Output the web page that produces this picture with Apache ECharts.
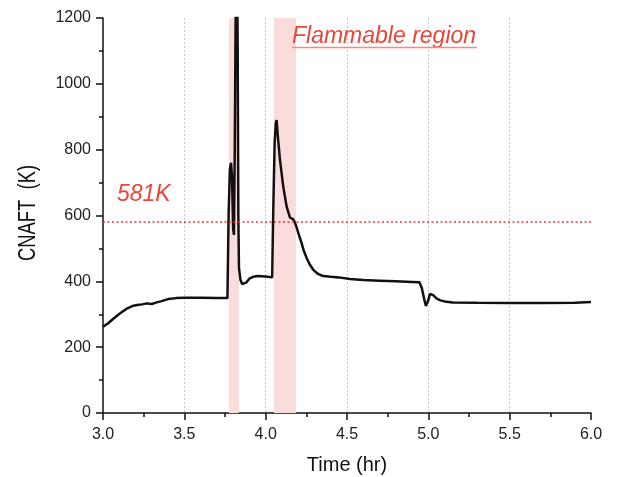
<!DOCTYPE html>
<html>
<head>
<meta charset="utf-8">
<script src="https://cdn.jsdelivr.net/npm/echarts@6/dist/echarts.min.js"></script>
<style>
  html, body { margin: 0; padding: 0; background: #fff; }
  #main { width: 617px; height: 477px; }
</style>
</head>
<body>
<div id="main"></div>
<script>
// time (hr) and CNAFT (K)
var timeHr = [3.00, 3.03, 3.06, 3.09, 3.12, 3.15, 3.18, 3.21, 3.24, 3.27, 3.30, 3.33, 3.36, 3.40, 3.45, 3.50, 3.60, 3.70,
  3.765, 3.772, 3.780, 3.787, 3.793, 3.800, 3.805, 3.810, 3.816, 3.822, 3.828, 3.832, 3.836, 3.845, 3.855, 3.865, 3.880,
  3.900, 3.925, 3.950, 4.000, 4.040, 4.046, 4.055, 4.062, 4.067, 4.075, 4.088, 4.108, 4.129, 4.149, 4.160, 4.170, 4.180,
  4.190, 4.205, 4.221, 4.235, 4.252, 4.270, 4.293, 4.320, 4.354, 4.400, 4.450, 4.518, 4.600, 4.700, 4.800, 4.900, 4.945,
  4.960, 4.975, 4.985, 4.990, 4.998, 5.010, 5.016, 5.030, 5.050, 5.070, 5.100, 5.150, 5.300, 5.500, 5.700, 5.900, 6.000];
var cnaft = [262, 272, 285, 297, 308, 318, 325, 328, 330, 333, 331, 336, 340, 346, 349, 350, 350, 349,
  349, 600, 740, 760, 720, 560, 541, 800, 1250, 1500, 1100, 600, 440, 405, 392, 389, 396,
  408, 414, 416, 415, 412, 600, 820, 880, 890, 840, 769, 688, 627, 594, 590, 588, 578,
  564, 540, 516, 492, 471, 452, 435, 423, 416, 414, 412, 407, 404, 402, 400, 398, 397,
  380, 345, 325, 323, 340, 362, 365, 358, 348, 343, 339, 336, 335, 334, 334, 335, 337];

// flammable bands [start, end] in hr
var flammableBands = [[3.774, 3.836], [4.051, 4.186]];
var thresholdK = 581;

var xTicks = { min: 3.0, max: 6.0, step: 0.5 };
var yTicks = { min: 0, max: 1200, step: 200 };

var red = '#e8463a';
var fontName = '"Liberation Sans", Arial, sans-serif';

var chart = echarts.init(document.getElementById('main'), null, { renderer: 'canvas' });

var points = [];
for (var i = 0; i < timeHr.length; i++) {
  points.push([timeHr[i], cnaft[i]]);
}

var areas = flammableBands.map(function (b) {
  return [{ xAxis: b[0] }, { xAxis: b[1] }];
});

var option = {
  animation: false,
  textStyle: { fontFamily: 'Liberation Sans, Arial, sans-serif' },
  grid: { left: 103, right: 26, top: 18, bottom: 64, containLabel: false, outerBoundsMode: 'none' },
  xAxis: {
    type: 'value',
    min: xTicks.min,
    max: xTicks.max,
    interval: xTicks.step,
    name: 'Time (hr)',
    nameLocation: 'middle',
    nameGap: 42,
    nameTextStyle: { fontSize: 20, color: '#111' },
    axisLine: { lineStyle: { color: '#111', width: 1.5 } },
    axisTick: { length: 7, lineStyle: { color: '#111', width: 1.5 } },
    minorTick: { show: true, splitNumber: 2, length: 4, lineStyle: { color: '#111', width: 1.5 } },
    axisLabel: {
      fontSize: 16, color: '#222', margin: 14,
      formatter: function (v) { return v.toFixed(1); }
    },
    splitLine: {
      show: true, showMinLine: false, showMaxLine: false,
      lineStyle: { color: '#c8c8c8', type: [2, 2], width: 1 }
    }
  },
  yAxis: {
    type: 'value',
    min: yTicks.min,
    max: yTicks.max,
    interval: yTicks.step,
    axisLine: { show: true, lineStyle: { color: '#111', width: 1.5 } },
    axisTick: { show: true, length: 7, lineStyle: { color: '#111', width: 1.5 } },
    minorTick: { show: true, splitNumber: 2, length: 4, lineStyle: { color: '#111', width: 1.5 } },
    axisLabel: {
      fontSize: 16, color: '#222', margin: 12,
      formatter: function (v) { return String(v); }
    },
    splitLine: { show: false }
  },
  series: [{
    type: 'line',
    data: points,
    symbol: 'none',
    clip: true,
    lineStyle: { color: '#151010', width: 2.5 },
    markArea: {
      silent: true,
      itemStyle: { color: '#fadcdc' },
      data: areas
    },
    markLine: {
      silent: true,
      symbol: 'none',
      label: { show: false },
      lineStyle: { color: '#e53935', type: [2, 2.5], width: 1.6 },
      data: [{ yAxis: thresholdK }]
    }
  }],
  graphic: [
    {
      // y axis title, a bit condensed like the original
      type: 'text',
      z: 100,
      x: 29, y: 213,
      rotation: Math.PI / 2,
      scaleX: 0.8,
      style: {
        text: 'CNAFT  (K)', x: 0, y: 0,
        font: '23px ' + fontName,
        fill: '#111', align: 'center', verticalAlign: 'middle',
        textAlign: 'center', textVerticalAlign: 'middle'
      }
    },
    {
      type: 'text',
      z: 100,
      style: {
        text: '581K', x: 117, y: 195,
        font: 'italic 23px ' + fontName,
        fill: red, verticalAlign: 'middle', textVerticalAlign: 'middle'
      }
    },
    {
      type: 'text',
      z: 100,
      style: {
        text: 'Flammable region', x: 292, y: 37,
        font: 'italic 23px ' + fontName,
        fill: red, verticalAlign: 'middle', textVerticalAlign: 'middle'
      }
    },
    {
      type: 'line',
      z: 100,
      shape: { x1: 292, y1: 47.5, x2: 477, y2: 47.5 },
      style: { stroke: '#f08c82', lineWidth: 1.5 }
    }
  ]
};

chart.setOption(option);
</script>
</body>
</html>
